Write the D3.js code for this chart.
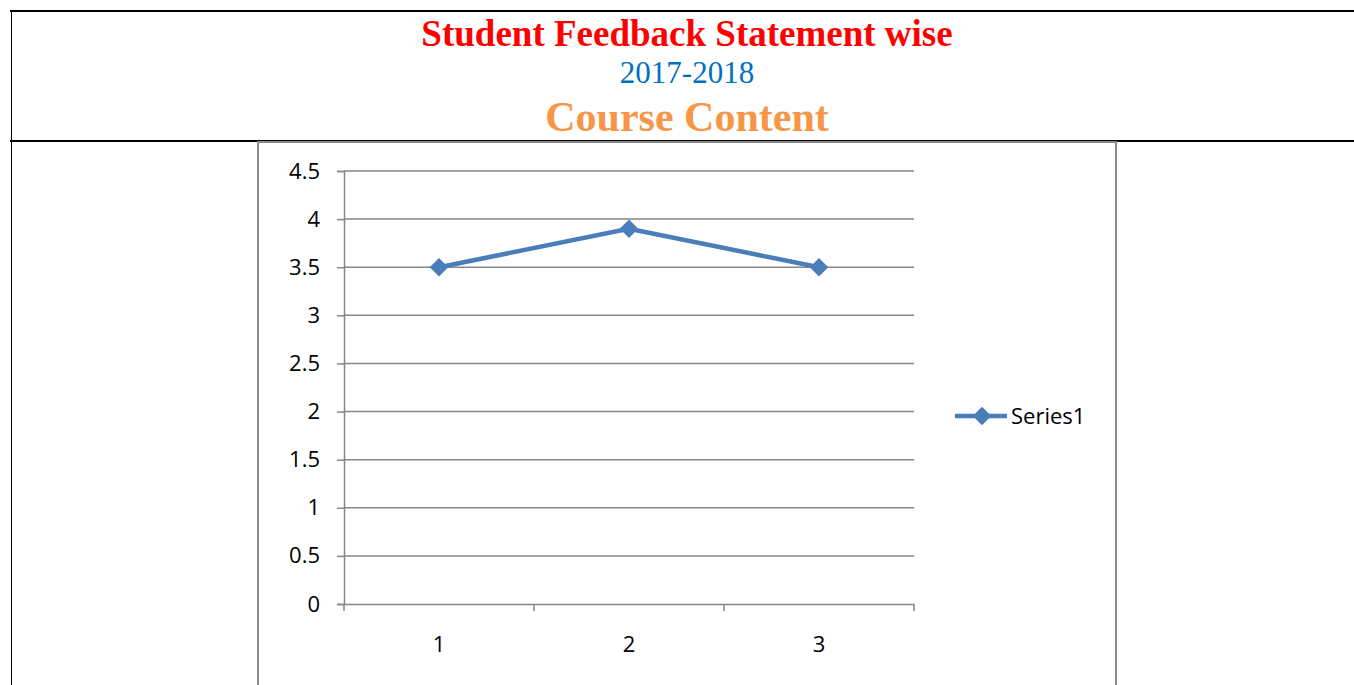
<!DOCTYPE html>
<html>
<head>
<meta charset="utf-8">
<script src="https://cdn.jsdelivr.net/npm/d3@7"></script>
<style>
  html, body { margin: 0; padding: 0; background: #fff; overflow: hidden; }
</style>
</head>
<body>
<div id="content"></div>
<script>
// chart data
var categories = ['1', '2', '3'];
var series1 = [3.5, 3.9, 3.5];
var yTicks = [0, 0.5, 1, 1.5, 2, 2.5, 3, 3.5, 4, 4.5];
var seriesName = 'Series1';

var W = 1354, H = 685;
var svg = d3.select('#content').append('svg')
    .attr('width', W)
    .attr('height', H);

// table frame around the title
svg.append('line').attr('x1', 10).attr('x2', W).attr('y1', 11).attr('y2', 11)
    .attr('stroke', '#000').attr('stroke-width', 2);
svg.append('line').attr('x1', 10).attr('x2', W).attr('y1', 141).attr('y2', 141)
    .attr('stroke', '#000').attr('stroke-width', 2);
svg.append('line').attr('x1', 11.5).attr('x2', 11.5).attr('y1', 10).attr('y2', H)
    .attr('stroke', '#000').attr('stroke-width', 1);

// titles
svg.append('text').attr('x', 687).attr('y', 46)
    .attr('text-anchor', 'middle')
    .style('font', 'bold 37px "Liberation Serif", "Times New Roman", serif')
    .attr('fill', '#FF0000')
    .text('Student Feedback Statement wise');
svg.append('text').attr('x', 687).attr('y', 83)
    .attr('text-anchor', 'middle')
    .style('font', '31px "Liberation Serif", "Times New Roman", serif')
    .attr('fill', '#0070C0')
    .text('2017-2018');
svg.append('text').attr('x', 687).attr('y', 131)
    .attr('text-anchor', 'middle')
    .style('font', 'bold 42px "Liberation Serif", "Times New Roman", serif')
    .attr('fill', '#F79646')
    .text('Course Content');

// chart area border
svg.append('rect').attr('x', 258).attr('y', 142).attr('width', 858).attr('height', 600)
    .attr('fill', 'none').attr('stroke', '#898989').attr('stroke-width', 2);

var plot = {left: 344, right: 914, top: 171, bottom: 604};

var y = d3.scaleLinear().domain([0, 4.5]).range([plot.bottom, plot.top]);
var x = d3.scaleBand().domain(categories).range([plot.left, plot.right]);

var fontAxis = '22px "Open Sans", Lato, sans-serif';

// gridlines
svg.append('g').selectAll('line').data(yTicks.filter(function(d) { return d > 0; }))
    .enter().append('line')
    .attr('x1', plot.left).attr('x2', plot.right)
    .attr('y1', function(d) { return y(d); })
    .attr('y2', function(d) { return y(d); })
    .attr('stroke', '#868686').attr('stroke-width', 1.5);

// y axis
var yAxis = svg.append('g')
    .attr('transform', 'translate(' + plot.left + ',0)')
    .call(d3.axisLeft(y).tickValues(yTicks).tickSize(7).tickPadding(17)
        .tickFormat(function(d) { return String(d); }));
yAxis.selectAll('path, line').attr('stroke', '#868686').attr('stroke-width', 1.5);
yAxis.selectAll('text').style('font', fontAxis).attr('fill', '#000');

// x axis
var xAxis = svg.append('g')
    .attr('transform', 'translate(0,' + plot.bottom + ')')
    .call(d3.axisBottom(x).tickSize(0).tickPadding(32));
xAxis.select('.domain').attr('stroke', '#868686').attr('stroke-width', 1.5);
xAxis.selectAll('text').style('font', fontAxis).attr('fill', '#000');
// band boundary tick marks
var bounds = categories.map(function(c) { return x(c); }).concat([plot.right]);
xAxis.selectAll('.bound').data(bounds).enter().append('line')
    .attr('class', 'bound')
    .attr('x1', function(d) { return d; }).attr('x2', function(d) { return d; })
    .attr('y1', 0).attr('y2', 7)
    .attr('stroke', '#868686').attr('stroke-width', 1.5);

// series line
var cx = function(d, i) { return x(categories[i]) + x.bandwidth() / 2; };
var line = d3.line().x(cx).y(function(d) { return y(d); });
svg.append('path').datum(series1)
    .attr('d', line)
    .attr('fill', 'none')
    .attr('stroke', '#4A7EBB')
    .attr('stroke-width', 4.5)
    .attr('stroke-linejoin', 'round');

var diamond = d3.symbol().type(d3.symbolDiamond2).size(220);
svg.append('g').selectAll('path').data(series1).enter().append('path')
    .attr('d', diamond)
    .attr('transform', function(d, i) { return 'translate(' + cx(d, i) + ',' + y(d) + ')'; })
    .attr('fill', '#4A7EBB');

// legend
var lg = svg.append('g').attr('transform', 'translate(955,416)');
lg.append('line').attr('x1', 0).attr('x2', 52).attr('y1', 0).attr('y2', 0)
    .attr('stroke', '#4A7EBB').attr('stroke-width', 4.5);
lg.append('path').attr('d', diamond).attr('transform', 'translate(27,0)').attr('fill', '#4A7EBB');
lg.append('text').attr('x', 56).attr('y', 8)
    .style('font', fontAxis).attr('fill', '#000')
    .text(seriesName);
</script>
</body>
</html>
